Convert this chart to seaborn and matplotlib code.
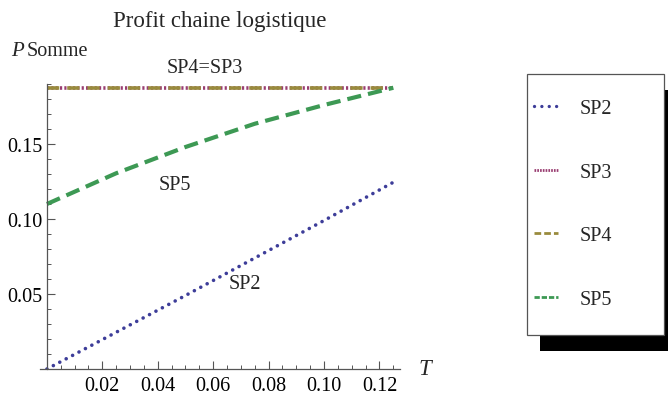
import matplotlib
matplotlib.use("Agg")
import matplotlib.pyplot as plt
import seaborn as sns
import numpy as np
import pandas as pd
from matplotlib.patches import Rectangle
from matplotlib.ticker import MultipleLocator, FixedLocator

# ---- data ----
T = [0.0, 0.025, 0.05, 0.075, 0.1, 0.125]
SP2 = [0.0, 0.0245, 0.049, 0.074, 0.099, 0.1245]
SP3 = [0.1875, 0.1875, 0.1875, 0.1875, 0.1875, 0.1875]
SP4 = [0.1875, 0.1875, 0.1875, 0.1875, 0.1875, 0.1875]
SP5 = [0.110, 0.1305, 0.148, 0.1635, 0.176, 0.1875]
series_names = ["SP2", "SP3", "SP4", "SP5"]
x_ticks = [0.02, 0.04, 0.06, 0.08, 0.10, 0.12]
x_tick_labels = ["0.02", "0.04", "0.06", "0.08", "0.10", "0.12"]
y_ticks = [0.05, 0.10, 0.15]
y_tick_labels = ["0.05", "0.10", "0.15"]
title = "Profit chaine logistique"

sns.set_theme(style="white")
plt.rcParams["font.family"] = ["Liberation Serif", "DejaVu Serif"]

W, H = 668, 402
fig = plt.figure(figsize=(W / 100, H / 100), dpi=100)
fig.patch.set_facecolor("white")

def fx(px):
    return px / W

def fy(py):
    return 1 - py / H

ax_left, ax_right, ax_top, ax_bottom = 40, 400, 85, 370
ax = fig.add_axes([fx(ax_left), fy(ax_bottom), (ax_right - ax_left) / W, (ax_bottom - ax_top) / H])
ax.set_facecolor("white")

colors = {
    "SP2": "#3d3d99",
    "SP3": "#993d71",
    "SP4": "#998b3d",
    "SP5": "#3d9954",
}
styles = {
    "SP2": dict(lw=2.6, ls=(0, (0.01, 2.0)), cap="round"),
    "SP3": dict(lw=2.6, ls=(0, (0.6, 0.6)), cap="butt"),
    "SP4": dict(lw=2.6, ls=(0, (3.4, 2.2)), cap="butt"),
    "SP5": dict(lw=3.0, ls=(0, (3.4, 1.7)), cap="butt"),
}
legend_styles = {
    "SP2": dict(lw=2.4, ls=(0, (0.01, 2.2)), cap="round"),
    "SP3": dict(lw=2.0, ls=(0, (0.6, 0.4)), cap="butt"),
    "SP4": dict(lw=2.0, ls=(0, (2.4, 1.1)), cap="butt"),
    "SP5": dict(lw=2.0, ls=(0, (1.9, 0.7)), cap="butt"),
}
values = {"SP2": SP2, "SP3": SP3, "SP4": SP4, "SP5": SP5}

for name in series_names:
    df = pd.DataFrame({"T": T, "P": values[name]})
    st = styles[name]
    sns.lineplot(data=df, x="T", y="P", ax=ax, color=colors[name],
                 linewidth=st["lw"], linestyle=st["ls"], label=name, legend=False)
    line = ax.lines[-1]
    line.set_dash_capstyle(st["cap"])
    line.set_solid_capstyle(st["cap"])

ax.set_xlim(-0.0025, 0.1274)
ax.set_ylim(0, 0.19)
for s in ["top", "right"]:
    ax.spines[s].set_visible(False)
ax.spines["left"].set_position(("data", 0))
ax.spines["bottom"].set_position(("data", 0))
for s in ["left", "bottom"]:
    ax.spines[s].set_color("#555555")
    ax.spines[s].set_linewidth(0.9)

ax.xaxis.set_major_locator(FixedLocator(x_ticks))
ax.set_xticklabels(x_tick_labels)
ax.yaxis.set_major_locator(FixedLocator(y_ticks))
ax.set_yticklabels(y_tick_labels)
ax.xaxis.set_minor_locator(MultipleLocator(0.005))
ax.yaxis.set_minor_locator(MultipleLocator(0.01))
ax.tick_params(axis="both", which="major", direction="in", length=6, width=0.8,
               color="#555555", labelsize=14.5, labelcolor="black", pad=5)
ax.tick_params(axis="y", which="major", pad=3)
ax.tick_params(axis="both", which="minor", direction="in", length=3, width=0.7,
               color="#555555")
ax.tick_params(axis="x", which="both", bottom=True)
ax.tick_params(axis="y", which="both", left=True)
ax.set_xlabel("")
ax.set_ylabel("")
ax.grid(False)

# axis labels
fig.text(fx(418), fy(370), "T", fontsize=16.5, style="italic", va="center", ha="left")
fig.text(fx(11), fy(52), "P", fontsize=15, style="italic", va="center", ha="left")
fig.text(fx(27), fy(52), "Somme", fontsize=14.5, va="center", ha="left")

# title
fig.text(fx(220), fy(21), title, fontsize=16.5, ha="center", va="center")

# in-plot labels
ax.text(0.057, 0.2013, "SP4=SP3", fontsize=14.5, ha="center", va="center", clip_on=False)
ax.text(0.0462, 0.1233, "SP5", fontsize=14.5, ha="center", va="center")
ax.text(0.0715, 0.0567, "SP2", fontsize=14.5, ha="center", va="center")

# legend box with drop shadow
box_l, box_t, box_r, box_b = 527, 75, 664, 336
shadow = Rectangle((fx(box_l + 13), fy(box_b + 16)), (box_r - box_l) / W, (box_b - box_t) / H,
                   transform=fig.transFigure, facecolor="black", edgecolor="none", zorder=1)
frame = Rectangle((fx(box_l), fy(box_b)), (box_r - box_l) / W, (box_b - box_t) / H,
                  transform=fig.transFigure, facecolor="white", edgecolor="#555555",
                  linewidth=0.9, zorder=2)
fig.add_artist(shadow)
fig.add_artist(frame)

handles, labels = ax.get_legend_handles_labels()
leg = fig.legend(handles, labels, loc="center left", bbox_to_anchor=(fx(534), fy(205)),
                 frameon=False, fontsize=14.5, handlelength=1.2, handletextpad=1.05,
                 labelspacing=2.2, borderpad=0, borderaxespad=0)
leg.set_zorder(3)
for lline, name in zip(leg.get_lines(), labels):
    st = legend_styles[name]
    lline.set_linewidth(st["lw"])
    lline.set_linestyle(st["ls"])
    lline.set_dash_capstyle(st["cap"])

fig.savefig("out.png", dpi=100, facecolor="white")
